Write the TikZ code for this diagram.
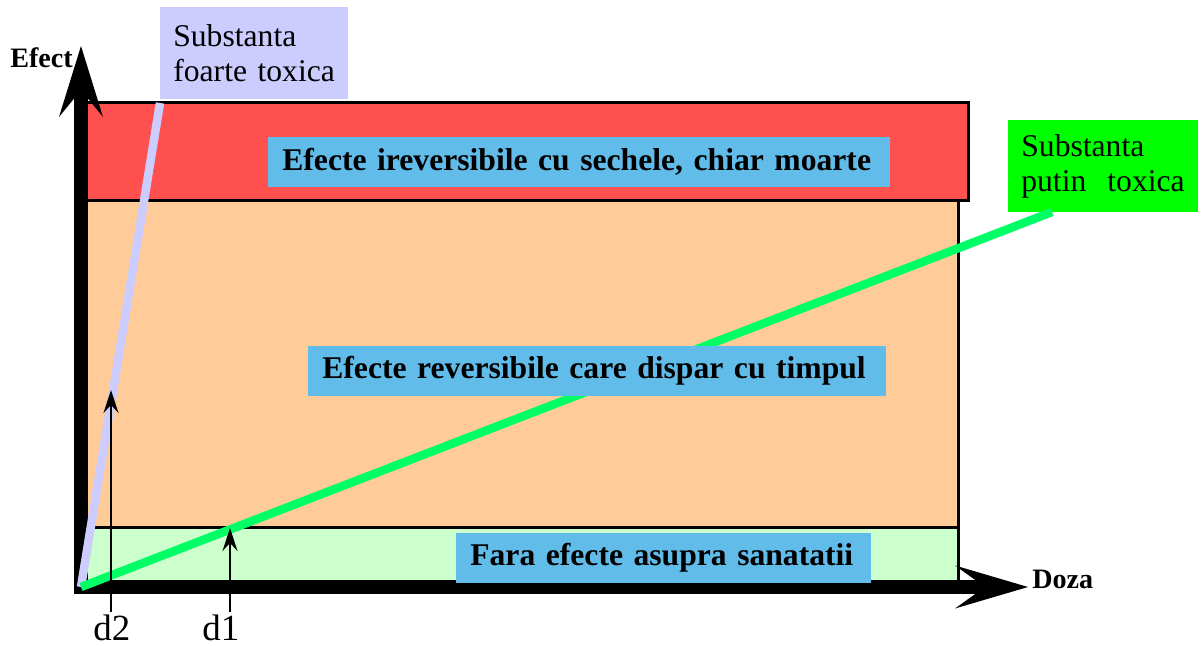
\documentclass[tikz,border=0pt]{standalone}
\usepackage{fontspec}
\setmainfont{Liberation Serif}
\usetikzlibrary{arrows.meta}
\definecolor{bandred}{RGB}{255,80,80}
\definecolor{bandpeach}{RGB}{255,204,153}
\definecolor{bandgreen}{RGB}{204,255,204}
\definecolor{zoneblue}{RGB}{97,188,234}
\definecolor{toxhigh}{RGB}{204,204,255}
\definecolor{toxlow}{RGB}{0,255,102}
\definecolor{toxlowbox}{RGB}{0,255,0}

\begin{document}
\begin{tikzpicture}[x=0.02cm, y=-0.02cm,
  band/.style={draw=black, line width=0.06cm},
  zone/.style={fill=zoneblue, font=\fontsize{18}{20}\selectfont\bfseries,
    inner xsep=0.28cm, inner ysep=0pt, minimum height=1cm, align=left, anchor=west},
  tag/.style={font=\fontsize{18}{20}\selectfont, align=left, inner xsep=0.26cm,
    minimum height=1.83cm, anchor=north west},
  axis/.style={line width=0.28cm},
  curve/.style={line width=0.17cm},
  marker/.style={line width=0.04cm, -{Stealth[length=0.46cm, width=0.3cm, inset=0.16cm]}},
  axislbl/.style={font=\fontsize{16}{18}\selectfont\bfseries, inner sep=0pt, anchor=base west},
  doselbl/.style={font=\fontsize{21}{24}\selectfont, inner sep=0pt, anchor=base west}
]
\useasboundingbox (0,0) rectangle (1201,646);

% Effect bands (bottom to top: none, reversible, irreversible)
\draw[band, fill=bandred] (81,102) rectangle (968,200);
\draw[band, fill=bandpeach] (81,200) rectangle (958,527);
\draw[band, fill=bandgreen] (81,527) rectangle (958,587);

% Axes
\coordinate (O) at (81,587);
\coordinate (ytip) at (81,46);
\coordinate (xtip) at (1028,587);
\draw[axis, line cap=rect, -{Stealth[length=1.42cm, width=0.88cm, inset=0.54cm, line width=0pt]}] (O) -- (ytip);
\draw[axis, -{Stealth[length=1.46cm, width=0.86cm, inset=0.6cm, line width=0pt]}] (O) -- (xtip);
\node[axislbl] (efect) at (10,67) {Efect};
\node[axislbl] (doza) at (1032,588) {Doza};

% Substance labels
\node[tag, fill=toxhigh, text width=3.24cm] (foarte) at (160,7) {Substanta\\foarte toxica};
\node[tag, fill=toxlowbox, text width=3.28cm] (putin) at (1008,120) {Substanta\\putin\ \ toxica};

% Dose-effect lines
\coordinate (hiend) at (160,103);
\coordinate (loend) at (1052,212);
\draw[curve, toxhigh] (O) -- (hiend);
\draw[curve, toxlow] (O) -- (loend);

% Zone labels
\node[zone, text width=11.88cm] (irrev) at (268,162) {Efecte ireversibile cu sechele, chiar moarte};
\node[zone, text width=11.0cm] (rev) at (308,370.5) {Efecte reversibile care dispar cu timpul};
\node[zone, text width=7.74cm] (none) at (456,558) {Fara efecte asupra sanatatii};

% Threshold doses
\node[doselbl] (d2) at (93,640) {d2};
\node[doselbl] (d1) at (202,640) {d1};
\coordinate (d2low) at (111,612);
\coordinate (d2top) at (111,390);
\coordinate (d1low) at (230,612);
\coordinate (d1top) at (230,528);
\draw[marker] (d2low) -- (d2top);
\draw[marker] (d1low) -- (d1top);

\end{tikzpicture}
\end{document}
